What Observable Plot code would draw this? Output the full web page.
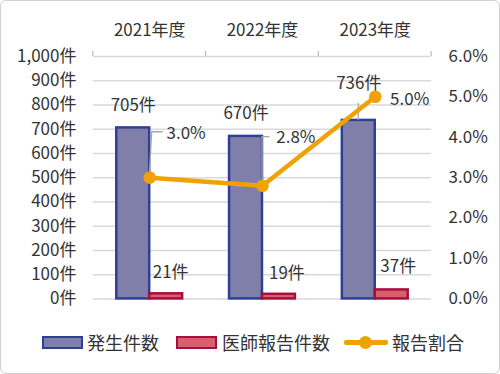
<!DOCTYPE html>
<html><head><meta charset="utf-8">
<script src="https://cdn.jsdelivr.net/npm/d3@7"></script>
<script src="https://cdn.jsdelivr.net/npm/@observablehq/plot@0.6"></script>
<style>
html,body{margin:0;padding:0;background:#fff;}
#wrap{position:relative;width:500px;height:374px;box-sizing:border-box;border:1px solid #d0d0d0;border-radius:6px;overflow:hidden;font-family:"Noto Sans CJK JP","Noto Sans",sans-serif;color:#333;}
#chart{position:absolute;left:-1px;top:-1px;}
.lg{position:absolute;font-size:18px;line-height:18px;top:332px;white-space:nowrap;}
.sw{position:absolute;box-sizing:border-box;}
</style></head>
<body><div id="wrap"><div id="chart"></div><div id="legend"></div></div>
<script>
const years = ["2021年度", "2022年度", "2023年度"];
const incidents = [705, 670, 736];
const reports = [21, 19, 37];
const ratioPct = [3.0, 2.8, 5.0];
const countTicks = [0, 100, 200, 300, 400, 500, 600, 700, 800, 900, 1000];
const pctTicks = [0, 1, 2, 3, 4, 5, 6];
const seriesNames = ["発生件数", "医師報告件数", "報告割合"];

const C = {
  barFill: "#7f7fa9", barStroke: "#2f3f96",
  repFill: "#d95f6c", repStroke: "#a50f3e",
  line: "#f2a104", grid: "#d9d9d9", text: "#333333", leader: "#a6a6a6"
};
const toY = p => p * 1000 / 6;   // maps percent onto the count axis
const rows = years.map((y, i) => ({year: y, inc: incidents[i], rep: reports[i], pct: ratioPct[i]}));

// label offsets (px) relative to their anchors
const incOff = [[0, -22.6], [0, -23], [0, -37]];
const repOff = [[4.5, -21], [8, -21], [6.5, -23]];
const pctOff = [[36.5, -44.5], [33.5, -48.6], [34.5, 2.5]];

const half = 16.5;

function leaders(index, scales, values, dims) {
  const x = scales.x, y = scales.y, bw = x.bandwidth ? x.bandwidth() : 0;
  const g = document.createElementNS("http://www.w3.org/2000/svg", "g");
  const cx = i => x(years[i]) + bw / 2;
  const paths = [
    [[cx(0) + 13.5, y(toY(ratioPct[0])) - 45.5], [cx(0) + 2.5, y(toY(ratioPct[0])) - 45.5], [cx(0), y(toY(ratioPct[0]))]],
    [[cx(1) + 7.5, y(toY(ratioPct[1])) - 48.6], [cx(1), y(toY(ratioPct[1])) - 48.6], [cx(1), y(toY(ratioPct[1]))]],
    [[cx(2) - half, y(incidents[2]) - 17], [cx(2) - half, y(incidents[2])]]
  ];
  for (const p of paths) {
    const el = document.createElementNS("http://www.w3.org/2000/svg", "polyline");
    el.setAttribute("points", p.map(q => q.join(",")).join(" "));
    el.setAttribute("fill", "none");
    el.setAttribute("stroke", C.leader);
    el.setAttribute("stroke-width", "1.3");
    g.appendChild(el);
  }
  // top axis ticks at category boundaries
  const step = x.step ? x.step() : bw;
  const bounds = [cx(0) - step / 2, ...years.map((d, i) => cx(i) + step / 2)];
  for (const b of bounds) {
    const el = document.createElementNS("http://www.w3.org/2000/svg", "line");
    el.setAttribute("x1", b); el.setAttribute("x2", b);
    el.setAttribute("y1", y(1000) - 5); el.setAttribute("y2", y(1000));
    el.setAttribute("stroke", "#bfbfbf"); el.setAttribute("stroke-width", "1.3");
    g.appendChild(el);
  }
  return g;
}

const marks = [
  Plot.ruleY(countTicks, {stroke: C.grid, strokeWidth: 1.5}),
  Plot.axisY({anchor: "left", ticks: countTicks, tickSize: 0, tickPadding: 17, label: null,
    tickFormat: d => d.toLocaleString("en-US") + "件", fill: C.text}),
  Plot.axisY({anchor: "right", ticks: pctTicks.map(toY), tickSize: 0, tickPadding: 17, label: null,
    tickFormat: d => (d * 6 / 1000).toFixed(1) + "%", fill: C.text, textAnchor: "start"}),
  Plot.axisX({anchor: "top", tickSize: 0, tickPadding: 20, label: null, fill: C.text}),
  Plot.barY(rows, {x: "year", y: "inc", dx: -half, fill: C.barFill, stroke: C.barStroke, strokeWidth: 2.5}),
  Plot.barY(rows, {x: "year", y: "rep", dx: half, fill: C.repFill, stroke: C.repStroke, strokeWidth: 2.5}),
  leaders,
  Plot.line(rows, {x: "year", y: d => toY(d.pct), stroke: C.line, strokeWidth: 4.5}),
  Plot.dot(rows, {x: "year", y: d => toY(d.pct), r: 6.3, fill: C.line, stroke: "none"})
];
rows.forEach((r, i) => {
  marks.push(Plot.text([r], {x: "year", y: "inc", text: d => d.inc + "件", dx: -half + incOff[i][0], dy: incOff[i][1], fill: C.text}));
  marks.push(Plot.text([r], {x: "year", y: "rep", text: d => d.rep + "件", dx: half + repOff[i][0], dy: repOff[i][1], fill: C.text}));
  marks.push(Plot.text([r], {x: "year", y: d => toY(d.pct), text: d => d.pct.toFixed(1) + "%", dx: pctOff[i][0], dy: pctOff[i][1], fill: C.text}));
});

const chart = Plot.plot({
  width: 500, height: 374,
  marginLeft: 93, marginRight: 68, marginTop: 56, marginBottom: 75,
  style: {fontSize: "17px", fontFamily: "'Noto Sans CJK JP', 'Noto Sans', sans-serif", background: "transparent", color: C.text},
  x: {domain: years, paddingInner: 0.708, paddingOuter: 0.354, axis: null, label: null},
  y: {domain: [0, 1000], axis: null, label: null},
  marks
});
document.getElementById("chart").appendChild(chart);

// HTML legend
const lg = document.getElementById("legend");
const sw = (left, fill, stroke) => `<div class="sw" style="left:${left}px;top:335px;width:41px;height:13px;background:${fill};border:2.5px solid ${stroke}"></div>`;
lg.innerHTML =
  sw(41, C.barFill, C.barStroke) + `<div class="lg" style="left:86px">${seriesNames[0]}</div>` +
  sw(175, C.repFill, C.repStroke) + `<div class="lg" style="left:221px">${seriesNames[1]}</div>` +
  `<div class="sw" style="left:343px;top:339px;width:44px;height:4.5px;background:${C.line};border-radius:2px"></div>` +
  `<div class="sw" style="left:358px;top:334.5px;width:13px;height:13px;border-radius:50%;background:${C.line}"></div>` +
  `<div class="lg" style="left:391px">${seriesNames[2]}</div>`;
</script></body></html>
